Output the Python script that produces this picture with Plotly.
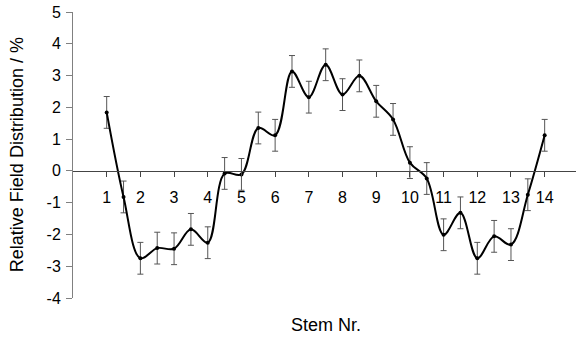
import plotly.graph_objects as go

stem = [1, 1.5, 2, 2.5, 3, 3.5, 4, 4.5, 5, 5.5, 6, 6.5, 7, 7.5, 8, 8.5, 9, 9.5,
        10, 10.5, 11, 11.5, 12, 12.5, 13, 13.5, 14]
field = [1.84, -0.82, -2.75, -2.43, -2.45, -1.84, -2.26, -0.08, -0.11, 1.35, 1.12,
         3.13, 2.32, 3.34, 2.40, 2.99, 2.19, 1.62, 0.26, -0.24, -2.01, -1.32,
         -2.75, -2.06, -2.32, -0.75, 1.12]
err = [0.5] * len(stem)
xticks = list(range(1, 15))
yticks = list(range(-4, 6))
yticktext = [str(v) for v in yticks]  # plain hyphen minus as in the original

fig = go.Figure()
fig.add_trace(go.Scatter(
    x=stem, y=field, mode="lines+markers",
    line=dict(color="black", width=2, shape="spline", smoothing=1),
    marker=dict(color="black", size=4),
    error_y=dict(type="data", array=err, visible=True, color="#555555",
                 thickness=1, width=3),
    showlegend=False,
))

font = dict(family="Liberation Sans, Arial, sans-serif", size=16, color="black")
tfont = dict(family="Liberation Sans, Arial, sans-serif", size=18, color="black")

fig.update_layout(
    width=576, height=340,
    margin=dict(l=73, r=0, t=12, b=42),
    paper_bgcolor="white", plot_bgcolor="white",
    font=font,
    xaxis=dict(range=[0, 14.93], tickmode="array", tickvals=xticks,
               ticktext=[str(t) for t in xticks],
               showgrid=False, zeroline=False, showline=True,
               linecolor="#444444", linewidth=1,
               ticks="outside", ticklen=5, tickcolor="#444444",
               anchor="free", position=4/9, ticklabelstandoff=7,
               tickfont=font),
    yaxis=dict(range=[-4, 5], tickmode="array", tickvals=yticks,
               ticktext=yticktext,
               showgrid=False, zeroline=False, showline=True,
               linecolor="#808080", linewidth=1,
               ticks="outside", ticklen=6, tickcolor="#808080",
               ticklabelstandoff=2, tickfont=font),
    annotations=[
        dict(text="Stem Nr.", x=0.5025, y=-0.094, xref="paper", yref="paper",
             showarrow=False, font=tfont, yanchor="middle"),
        dict(text="Relative Field Distribution / %", x=-0.111, y=0.5,
             xref="paper", yref="paper", textangle=-90, showarrow=False,
             font=tfont, xanchor="center", yanchor="middle"),
    ],
)

fig.write_html("out.html", config={"displayModeBar": False},
               post_script="document.body.style.margin='0';")
